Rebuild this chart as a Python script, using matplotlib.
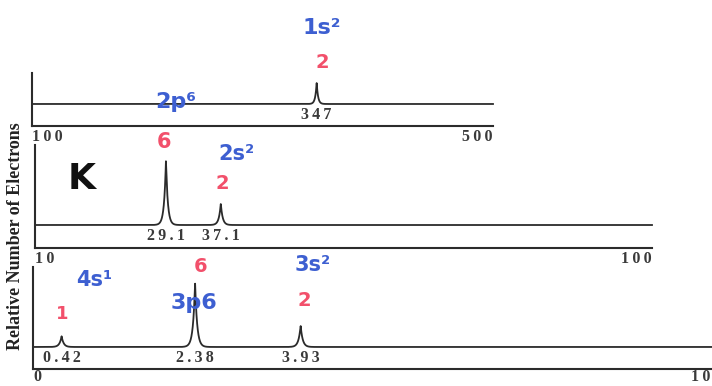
import numpy as np
import matplotlib
matplotlib.use("Agg")
import matplotlib.pyplot as plt
from matplotlib.transforms import ScaledTranslation

# binding energies (MJ/mol) and relative electron counts for K, one panel per range
core_pos = [347]
core_cnt = [2]
mid_pos = [29.1, 37.1]
mid_cnt = [6, 2]
val_pos = [0.42, 2.38, 3.93]
val_cnt = [1, 6, 2]

ranges = [(100, 500), (10, 100), (0, 10)]
range_labels = [("100", "500"), ("10", "100"), ("0", "10")]

W, H = 712, 386
fig = plt.figure(figsize=(W / 100, H / 100), dpi=100)
fig.patch.set_facecolor("white")

ink = "#2b2b2b"
blue = "#3d5fd1"
red = "#f2506b"
serif = dict(fontsize=11.5, fontweight="bold", family="Liberation Serif",
             color="#3a3a3a")


def spaced(s):
    # the printed labels are set with wide letter spacing
    return "\u2009".join(s)


def box(left, right, top, bottom):
    return [left / W, 1 - bottom / H, (right - left) / W, (bottom - top) / H]


def fpx(x, y):
    return x / W, 1 - y / H


def panel(rect, lims, labels, pos, cnt, ylim, pad=2):
    ax = fig.add_axes(rect)
    lo, hi = lims
    x = np.linspace(lo, hi, 6000)
    w = 0.003 * (hi - lo)
    y = np.zeros_like(x)
    for p, c in zip(pos, cnt):
        y += c * np.exp(-np.abs(x - p) / w)
    ax.plot(x, y, color=ink, lw=1.3, clip_on=False)
    for p in pos:
        ax.text(p, -1.05, spaced(f"{p:g}"), ha="center", va="center", **serif)
    ax.set_xlim(lo, hi)
    ax.set_ylim(*ylim)
    for s in ("top", "right"):
        ax.spines[s].set_visible(False)
    for s in ("left", "bottom"):
        ax.spines[s].set_linewidth(1.5)
        ax.spines[s].set_color(ink)
    ax.set_yticks([])
    ax.set_xticks([lo, hi])
    ax.set_xticklabels([spaced(t) for t in labels], **serif)
    ax.tick_params(axis="x", length=0, pad=pad)
    tl = ax.get_xticklabels()
    tl[0].set_ha("left")
    tl[1].set_ha("right")
    ax.patch.set_alpha(0)
    return ax


panel(box(32, 493, 73, 126), ranges[0], range_labels[0],
      core_pos, core_cnt, (-2.06, 2.9))
panel(box(35, 652, 145, 248), ranges[1], range_labels[1],
      mid_pos, mid_cnt, (-2.15, 7.48))
ax3 = panel(box(33, 714, 267, 369), ranges[2], range_labels[2],
            val_pos, val_cnt, (-2.06, 7.48), pad=0)
last = ax3.get_xticklabels()[1]
last.set_transform(last.get_transform()
                   + ScaledTranslation(-4 / 100, 0, fig.dpi_scale_trans))

fig.text(*fpx(16, 236), "Relative Number of Electrons", rotation=90,
         ha="center", va="center", fontsize=13, fontweight="bold",
         family="Liberation Serif", color="#222222")

# handwritten notes
notes = [
    (322, 28, "1s²", blue, 16),
    (322, 63, "2", red, 14),
    (176, 102, "2p⁶", blue, 16),
    (164, 142, "6", red, 15),
    (82, 179, "K", "#111111", 26),
    (236, 154, "2s²", blue, 15),
    (222, 184, "2", red, 14),
    (62, 314, "1", red, 13),
    (94, 280, "4s¹", blue, 15),
    (201, 266, "6", red, 14),
    (194, 303, "3p6", blue, 16),
    (313, 265, "3s²", blue, 15),
    (304, 301, "2", red, 14),
]
for x, y, t, c, fs in notes:
    fig.text(*fpx(x, y), t, color=c, fontsize=fs, ha="center", va="center",
             family="DejaVu Sans", fontweight="bold")

fig.savefig("out.png", dpi=100)
